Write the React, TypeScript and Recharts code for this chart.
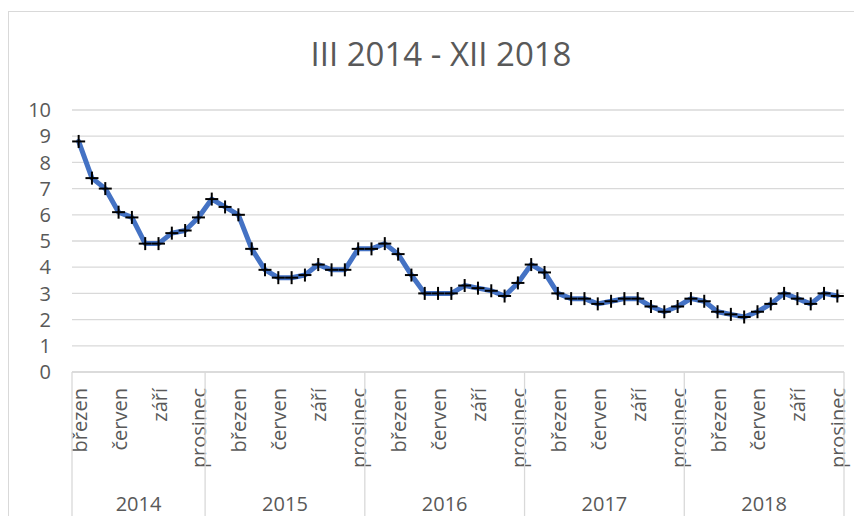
import React from 'react';
import { LineChart, Line, XAxis, YAxis, CartesianGrid } from 'recharts';

const TITLE = 'III 2014 - XII 2018';
const MONTH_NAMES = ['leden', 'únor', 'březen', 'duben', 'květen', 'červen', 'červenec', 'srpen', 'září', 'říjen', 'listopad', 'prosinec'];
const YEARS = [2014, 2015, 2016, 2017, 2018];
const FIRST_MONTH = 2; // březen 2014
const VALUES = [
  8.8, 7.4, 7.0, 6.1, 5.9, 4.9, 4.9, 5.3, 5.4, 5.9,
  6.6, 6.3, 6.0, 4.7, 3.9, 3.6, 3.6, 3.7, 4.1, 3.9, 3.9, 4.7,
  4.7, 4.9, 4.5, 3.7, 3.0, 3.0, 3.0, 3.3, 3.2, 3.1, 2.9, 3.4,
  4.1, 3.8, 3.0, 2.8, 2.8, 2.6, 2.7, 2.8, 2.8, 2.5, 2.3, 2.5,
  2.8, 2.7, 2.3, 2.2, 2.1, 2.3, 2.6, 3.0, 2.8, 2.6, 3.0, 2.9,
];
const Y_TICKS = [0, 1, 2, 3, 4, 5, 6, 7, 8, 9, 10];

const DATA = VALUES.map((v, i) => {
  const m = FIRST_MONTH + i;
  return {
    key: `${YEARS[0] + Math.floor(m / 12)}-${(m % 12) + 1}`,
    month: m % 12,
    monthName: MONTH_NAMES[m % 12],
    year: YEARS[0] + Math.floor(m / 12),
    value: v,
  };
});

const W = 854;
const H = 516;
const MARGIN = { top: 102, right: 18, left: 0, bottom: 0 };
const YAXIS_W = 64;
const XAXIS_H = 152;
const BAND = (W - MARGIN.left - MARGIN.right - YAXIS_W) / DATA.length;

const GRID = '#d9d9d9';
const TEXT = '#595959';
const FONT = '"Open Sans", sans-serif';

const yearRange = (year: number) => {
  let first = -1;
  let last = -1;
  DATA.forEach((d, i) => {
    if (d.year === year) {
      if (first < 0) first = i;
      last = i;
    }
  });
  return { first, last };
};

const CategoryTick = (props: any) => {
  const { x, y, index } = props;
  const d = DATA[index];
  if (!d) return null;
  const els: any[] = [];
  if (index % 3 === 0) {
    els.push(
      <text
        key="m"
        x={x}
        y={y + 16}
        dy="0.4em"
        transform={`rotate(-90, ${x}, ${y + 16})`}
        textAnchor="end"
        fill={TEXT}
        fontSize={20}
        fontFamily={FONT}
      >
        {d.monthName}
      </text>
    );
  }
  if (index === 0 || d.month === 0) {
    els.push(<line key="s0" x1={x - BAND / 2} x2={x - BAND / 2} y1={y} y2={y + 146} stroke={GRID} strokeWidth={1.3} />);
  }
  if (index === DATA.length - 1) {
    els.push(<line key="s1" x1={x + BAND / 2} x2={x + BAND / 2} y1={y} y2={y + 146} stroke={GRID} strokeWidth={1.3} />);
  }
  const { first, last } = yearRange(d.year);
  const mid = (first + last) / 2;
  if (index === Math.floor(mid)) {
    els.push(
      <text
        key="y"
        x={x + (mid - index) * BAND}
        y={y + 131.5}
        dy="0.36em"
        textAnchor="middle"
        fill={TEXT}
        fontSize={20}
        fontFamily={FONT}
      >
        {d.year}
      </text>
    );
  }
  return <g>{els}</g>;
};

const PlusDot = (props: any) => {
  const { cx, cy } = props;
  if (cx == null || cy == null) return <g />;
  return (
    <g>
      <line x1={cx - 6.5} x2={cx + 6.5} y1={cy} y2={cy} stroke="#000" strokeWidth={2} />
      <line x1={cx} x2={cx} y1={cy - 6.5} y2={cy + 6.5} stroke="#000" strokeWidth={2} />
    </g>
  );
};

export default function App() {
  return (
    <div style={{ position: 'relative', width: W, height: H, marginBottom: -8, overflow: 'hidden', background: '#fff' }}>
      <div
        style={{
          position: 'absolute',
          top: 3,
          left: 0,
          width: W + 20,
          height: H + 20,
          border: `1px solid ${GRID}`,
          boxSizing: 'border-box',
        }}
      />
      <div
        style={{
          position: 'absolute',
          top: 26,
          left: 0,
          width: 866,
          textAlign: 'center',
          fontFamily: FONT,
          fontSize: 33,
          lineHeight: '40px',
          color: TEXT,
          whiteSpace: 'nowrap',
        }}
      >
        {TITLE}
      </div>
      <div style={{ position: 'absolute', top: 0, left: 0 }}>
        <LineChart width={W} height={H} data={DATA} margin={MARGIN}>
          <CartesianGrid vertical={false} stroke={GRID} strokeWidth={1.3} />
          <XAxis
            dataKey="key"
            interval={0}
            height={XAXIS_H}
            padding={{ left: BAND / 2, right: BAND / 2 }}
            tickSize={0}
            tickMargin={0}
            tickLine={false}
            axisLine={{ stroke: GRID, strokeWidth: 1.3 }}
            tick={<CategoryTick />}
          />
          <YAxis
            width={YAXIS_W}
            domain={[0, 10]}
            ticks={Y_TICKS}
            interval={0}
            axisLine={false}
            tickLine={false}
            tickSize={0}
            tickMargin={21}
            tick={{ fill: TEXT, fontSize: 20, fontFamily: FONT }}
          />
          <Line
            type="linear"
            dataKey="value"
            stroke="#4472C4"
            strokeWidth={5}
            strokeLinejoin="round"
            strokeLinecap="round"
            isAnimationActive={false}
            dot={(p: any) => <PlusDot key={`d${p.index}`} {...p} />}
            activeDot={false}
          />
        </LineChart>
      </div>
    </div>
  );
}
